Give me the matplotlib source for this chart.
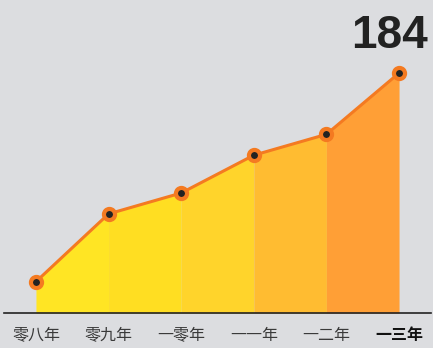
import matplotlib
matplotlib.use("Agg")
import matplotlib.pyplot as plt
import numpy as np

years = ["零八年", "零九年", "一零年", "一一年", "一二年", "一三年"]
values = [24, 76, 92, 121, 137, 184]
seg_colors = ["#ffe524", "#ffde22", "#ffd42b", "#ffbc31", "#ff9f36"]

plt.rcParams['font.family'] = ['Noto Sans CJK SC', 'DejaVu Sans']
bg = "#dcdde0"

fig = plt.figure(figsize=(4.33, 3.48), dpi=100, facecolor=bg)
ax = fig.add_axes([4 / 433, 35 / 348, 427 / 433, 313 / 348])
ax.set_facecolor(bg)

x = np.arange(len(values))
# coloured columns under the line, one per interval
for i in range(len(values) - 1):
    ax.fill_between(x[i:i + 2], values[i:i + 2], 0, color=seg_colors[i], lw=0)

ax.plot(x, values, color="#f47a21", lw=2.2, zorder=3)
ax.plot(x, values, "o", ms=8, mfc="#222222", mec="#f47a21", mew=3, zorder=4)

ax.set_xlim(-0.44, 5.44)
ax.set_ylim(0, 240)
for s in ["top", "right", "left"]:
    ax.spines[s].set_visible(False)
ax.spines["bottom"].set_color("#222222")
ax.spines["bottom"].set_linewidth(1.2)
ax.set_yticks([])
ax.set_xticks(x)
ax.set_xticklabels(years, fontsize=11.5, color="#3a3a3a")
ax.tick_params(axis="x", length=0, pad=10)
lab = ax.get_xticklabels()[-1]
lab.set_fontweight("bold")
lab.set_color("#111111")

fig.text(428 / 433, 1 - 48 / 348, str(values[-1]), ha="right", va="baseline",
         fontsize=33, fontweight="bold", color="#222222", family="Liberation Sans")

fig.savefig("out.png", dpi=100, facecolor=bg)
